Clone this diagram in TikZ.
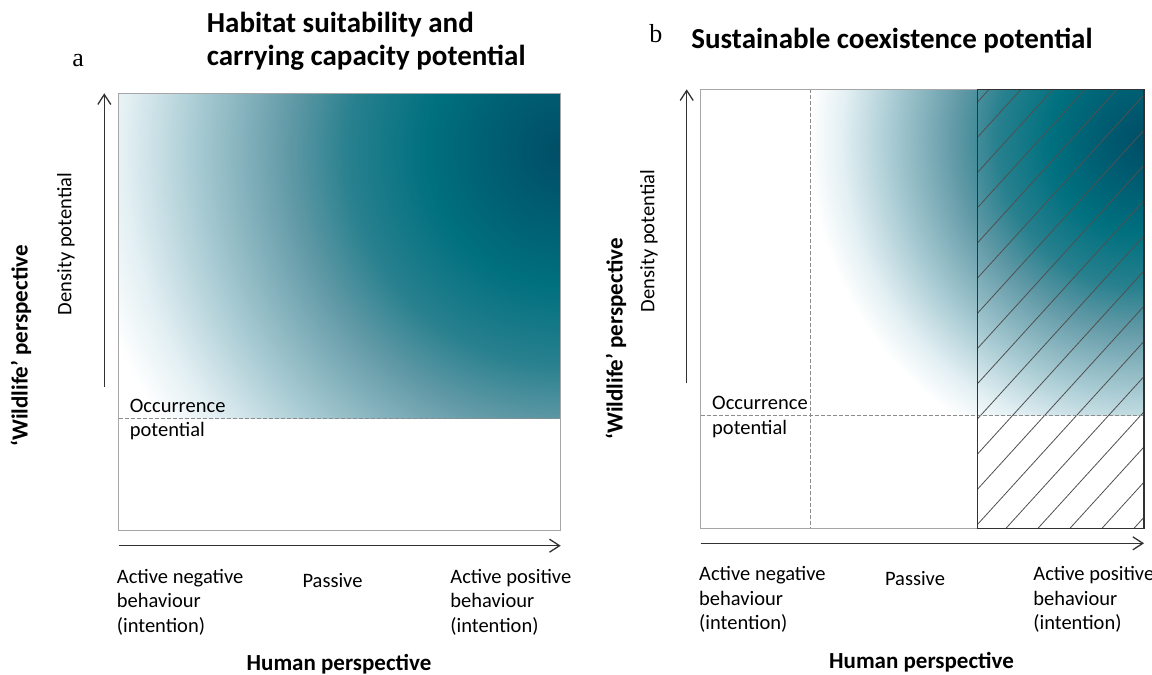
\documentclass[tikz,border=0pt]{standalone}
\usepackage{fontspec}
\setmainfont{Carlito}
\newfontfamily\panelfont{Liberation Serif}
\usepackage{xcolor}
\usetikzlibrary{arrows.meta}

\definecolor{gdark}{RGB}{0,78,102}
\definecolor{gdeep}{RGB}{0,96,116}
\definecolor{gteal}{RGB}{0,112,127}
\definecolor{gmid}{RGB}{40,128,142}
\definecolor{glight}{RGB}{95,152,165}
\definecolor{gpale}{RGB}{170,204,212}
\definecolor{gfaint}{RGB}{226,239,243}
\definecolor{boxgray}{RGB}{166,166,166}
\definecolor{dashgray}{RGB}{140,140,140}
\definecolor{axisgray}{RGB}{50,50,50}
\definecolor{hatchgray}{RGB}{80,80,80}

\pgfdeclareradialshading{habitatshade}{\pgfpoint{0bp}{0bp}}{color(0bp)=(gdark); color(4bp)=(gdeep); color(7bp)=(gteal); color(11bp)=(gmid); color(14bp)=(glight); color(19bp)=(gpale); color(22.5bp)=(gfaint); color(25bp)=(white); color(50bp)=(white)}

\begin{document}
\begin{tikzpicture}[x=0.5pt, y=-0.5pt,
  axis/.style={draw=axisgray, line width=0.65pt, -{Straight Barb[length=5pt,width=6.5pt]}},
  frame/.style={draw=boxgray, line width=0.75pt},
  divide/.style={draw=dashgray, line width=0.5pt, dash pattern=on 2pt off 1pt},
  body/.style={font=\fontsize{10.25}{12.25}\selectfont, inner sep=0pt, align=left},
  headline/.style={font=\bfseries\fontsize{14.5}{16.5}\selectfont, inner sep=0pt, align=left},
  axislabel/.style={font=\bfseries\fontsize{11.5}{13}\selectfont, inner sep=0pt},
  paneltag/.style={font=\panelfont\fontsize{13}{15}\selectfont, inner sep=0pt}]
  \useasboundingbox (0,0) rectangle (1152,675);
  % panel a
  \coordinate (a-nw) at (118.7,93.3);
  \coordinate (a-se) at (560.7,530.7);
  \coordinate (a-occw) at (118.7,418);
  \coordinate (a-occe) at (560.7,418);
  \coordinate (a-up0) at (104.3,387);
  \coordinate (a-up1) at (104.3,93.3);
  \coordinate (a-rt0) at (118.7,545.7);
  \coordinate (a-rt1) at (560.7,545.7);
  \begin{scope}
    \clip (a-nw) rectangle (a-occe);
    \shade[shading=habitatshade] (562,150) circle (485);
  \end{scope}
  \draw[divide] (a-occw) -- (a-occe);
  \draw[frame] (a-nw) rectangle (a-se);
  \draw[axis] (a-up0) -- (a-up1);
  \draw[axis] (a-rt0) -- (a-rt1);
  \node[paneltag, anchor=base west] (tagA) at (72,66) {a};
  \node[headline, anchor=base west] (titleA) at (206.5,65) {Habitat suitability and\\carrying capacity potential};
  \node[body, rotate=90] (densA) at (66,244) {Density potential};
  \node[axislabel, rotate=90] (wildA) at (21,346) {`Wildlife' perspective};
  \node[body, anchor=base west] (occA) at (129.5,436.5) {Occurrence\\potential};
  \node[body, anchor=base west] (negA) at (116.5,632) {Active negative\\behaviour\\(intention)};
  \node[body, anchor=base] (pasA) at (332.5,587.3) {Passive};
  \node[body, anchor=base west] (posA) at (450,632) {Active positive\\behaviour\\(intention)};
  \node[axislabel, anchor=base] (humA) at (339,670) {Human perspective};
  % panel b
  \coordinate (b-nw) at (700.7,89.3);
  \coordinate (b-se) at (1144,528.3);
  \coordinate (b-occw) at (700.7,415);
  \coordinate (b-occe) at (1144,415);
  \coordinate (b-divn) at (810,89.3);
  \coordinate (b-divs) at (810,528.3);
  \coordinate (b-hatch) at (977.3,89.3);
  \coordinate (b-up0) at (686.7,383);
  \coordinate (b-up1) at (686.7,89.3);
  \coordinate (b-rt0) at (700.7,543.3);
  \coordinate (b-rt1) at (1144,543.3);
  \begin{scope}
    \clip (b-divn) rectangle (b-occe);
    \shade[shading=habitatshade] (1144,140) circle (335);
  \end{scope}
  \begin{scope}
    \clip (b-hatch) rectangle (b-se);
    \foreach \hx in {558,590,...,1150}
      \draw[hatchgray, line width=0.4pt] (\hx,528.3) -- ++(420,-462);
  \end{scope}
  \draw[divide] (b-occw) -- (b-occe);
  \draw[divide] (b-divn) -- (b-divs);
  \draw[frame] (b-nw) rectangle (b-se);
  \draw[axisgray, line width=0.75pt] (b-hatch) rectangle (b-se);
  \draw[axis] (b-up0) -- (b-up1);
  \draw[axis] (b-rt0) -- (b-rt1);
  \node[paneltag, anchor=base west] (tagB) at (649,42) {b};
  \node[headline, anchor=base west] (titleB) at (691,48) {Sustainable coexistence potential};
  \node[body, rotate=90] (densB) at (649,241) {Density potential};
  \node[axislabel, rotate=90] (wildB) at (616,339) {`Wildlife' perspective};
  \node[body, anchor=base west] (occB) at (711.8,434) {Occurrence\\potential};
  \node[body, anchor=base west] (negB) at (698.8,629.7) {Active negative\\behaviour\\(intention)};
  \node[body, anchor=base] (pasB) at (915,585.7) {Passive};
  \node[body, anchor=base west] (posB) at (1033,629.7) {Active positive\\behaviour\\(intention)};
  \node[axislabel, anchor=base] (humB) at (921.5,668) {Human perspective};
\end{tikzpicture}
\end{document}
